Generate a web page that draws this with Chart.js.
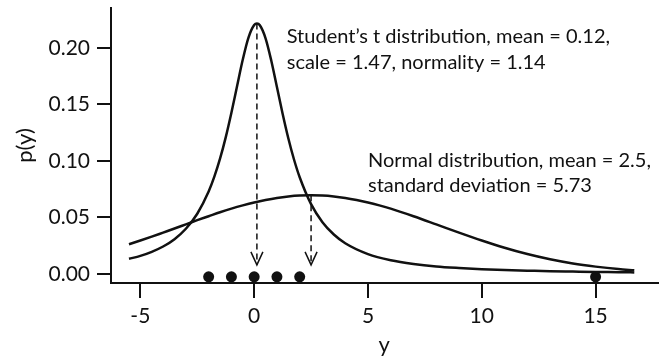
<!DOCTYPE html>
<html>
<head>
<meta charset="utf-8">
<script src="https://cdn.jsdelivr.net/npm/chart.js@4"></script>
<style>
  html, body { margin: 0; padding: 0; background: #fff; }
  #wrap { width: 663px; height: 359px; position: relative; }
</style>
</head>
<body>
<div id="wrap"><canvas id="c"></canvas></div>
<script>
/* ─── Data ──────────────────────────────────────────────────────────────── */
const observedY = [-2, -1, 0, 1, 2, 15];

// Student's t density, mean 0.12, scale 1.47, normality 1.14
const tX = [-5.5, -5, -4.5, -4, -3.5, -3, -2.5, -2, -1.75, -1.5, -1.25, -1, -0.75, -0.5, -0.25, 0,
  0.12, 0.25, 0.5, 0.75, 1, 1.25, 1.5, 1.75, 2, 2.5, 3, 3.5, 4, 5, 6, 7, 8, 9, 10, 11, 12, 13, 14, 15, 16, 16.7];
const tDensity = [0.0134, 0.0160, 0.0196, 0.0243, 0.0308, 0.0400, 0.0533, 0.0730, 0.0861, 0.1020, 0.1209, 0.1427, 0.1664, 0.1898, 0.2092, 0.2203,
  0.2217, 0.2201, 0.2086, 0.1890, 0.1655, 0.1418, 0.1201, 0.1013, 0.0856, 0.0618, 0.0458, 0.0349, 0.0272, 0.0176, 0.0122, 0.0089, 0.0067, 0.0053, 0.0042, 0.0034, 0.0029, 0.0024, 0.0021, 0.0018, 0.0016, 0.0014];

// Normal density, mean 2.5, sd 5.73
const normX = [-5.5, -5, -4.5, -4, -3.5, -3, -2.5, -2, -1.5, -1, -0.5, 0, 0.5, 1, 1.5, 2, 2.5, 3, 3.5, 4, 4.5, 5, 5.5, 6,
  7, 8, 9, 10, 11, 12, 13, 14, 15, 16, 16.7];
const normDensity = [0.0263, 0.0296, 0.0330, 0.0366, 0.0402, 0.0439, 0.0476, 0.0511, 0.0546, 0.0578, 0.0607, 0.0633, 0.0655, 0.0673, 0.0686, 0.0694, 0.0696, 0.0694, 0.0686, 0.0673, 0.0655, 0.0633, 0.0607, 0.0578,
  0.0511, 0.0439, 0.0366, 0.0296, 0.0232, 0.0176, 0.0130, 0.0093, 0.0065, 0.0043, 0.0032];

// dashed arrows: from each peak down toward the axis
const arrowX    = [0.12, 2.5];
const arrowTop  = [0.2217, 0.0696];
const arrowTip  = [0.008, 0.008];

const xTicks = [-5, 0, 5, 10, 15];
const yTicks = [0, 0.05, 0.10, 0.15, 0.20];

const notes = [
  { x: 1.43, y: 0.2044, text: 'Student\u2019s t distribution, mean = 0.12,' },
  { x: 1.43, y: 0.1814, text: 'scale = 1.47, normality = 1.14' },
  { x: 5.0,  y: 0.0947, text: 'Normal distribution, mean = 2.5,' },
  { x: 5.0,  y: 0.0726, text: 'standard deviation = 5.73' },
];

/* ─── Helpers ─────────────────────────────────────────────────────────────── */
const INK = '#111';
const FONT = 'Lato, sans-serif';

const toPoints = (xs, ys) => xs.map((x, i) => ({ x, y: ys[i] }));

const curve = (xs, ys) => ({
  type: 'line', data: toPoints(xs, ys),
  borderColor: INK, borderWidth: 2.5, pointRadius: 0,
  cubicInterpolationMode: 'monotone', fill: false,
});

const arrowSets = arrowX.map((x, i) => ({
  type: 'line', arrow: true,
  data: [{ x, y: arrowTop[i] }, { x, y: arrowTip[i] }],
  borderColor: INK, borderWidth: 1.5, borderDash: [6, 4], pointRadius: 0,
}));

const arrowHeads = {
  id: 'arrowHeads',
  afterDatasetsDraw(chart) {
    const ctx = chart.ctx;
    chart.data.datasets.forEach((ds, i) => {
      if (!ds.arrow) { return; }
      const pts = chart.getDatasetMeta(i).data;
      const tip = pts[pts.length - 1];
      ctx.save();
      ctx.strokeStyle = INK; ctx.lineWidth = 1.5;
      ctx.beginPath();
      ctx.moveTo(tip.x - 6, tip.y - 13);
      ctx.lineTo(tip.x, tip.y);
      ctx.lineTo(tip.x + 6, tip.y - 13);
      ctx.stroke();
      ctx.restore();
    });
  },
};

const noteText = {
  id: 'noteText',
  afterDatasetsDraw(chart) {
    const { ctx, scales: { x, y } } = chart;
    ctx.save();
    ctx.fillStyle = INK;
    ctx.font = '20px ' + FONT;
    ctx.textAlign = 'left';
    ctx.textBaseline = 'alphabetic';
    notes.forEach(n => ctx.fillText(n.text, x.getPixelForValue(n.x), y.getPixelForValue(n.y)));
    ctx.restore();
  },
};

/* ─── Chart ───────────────────────────────────────────────────────────────── */
Chart.defaults.font.family = FONT;
Chart.defaults.color = INK;

new Chart(document.getElementById('c'), {
  type: 'line',
  data: {
    datasets: [
      curve(tX, tDensity),
      curve(normX, normDensity),
      ...arrowSets,
      {
        type: 'scatter', data: observedY.map(v => ({ x: v, y: -0.0025 })),
        pointRadius: 5.5, pointBackgroundColor: INK, pointBorderColor: INK, pointBorderWidth: 0,
      },
    ],
  },
  options: {
    responsive: true, maintainAspectRatio: false, animation: false,
    layout: { padding: { top: 8, right: 5, left: 0, bottom: 0 } },
    plugins: { legend: { display: false }, tooltip: { enabled: false } },
    scales: {
      x: {
        type: 'linear', min: -6.29, max: 17.72,
        afterBuildTicks: s => { s.ticks = xTicks.map(v => ({ value: v })); },
        afterFit: s => { s.height = 76; s.paddingLeft = 0; s.paddingRight = 0; },
        grid: { drawOnChartArea: false, drawTicks: true, tickLength: 15, color: INK, lineWidth: 2 },
        border: { display: true, color: INK, width: 2 },
        ticks: { font: { size: 21 }, color: INK, padding: 6, maxRotation: 0, autoSkip: false, callback: v => String(v) },
        title: { display: true, text: 'y', font: { size: 22 }, color: INK, padding: { top: 0, bottom: 1 } },
      },
      y: {
        type: 'linear', min: -0.008, max: 0.2354,
        afterBuildTicks: s => { s.ticks = yTicks.map(v => ({ value: v })); },
        afterFit: s => { s.width = 111; s.paddingTop = 0; s.paddingBottom = 0; },
        grid: { drawOnChartArea: false, drawTicks: true, tickLength: 14, color: INK, lineWidth: 2 },
        border: { display: true, color: INK, width: 2 },
        ticks: { font: { size: 21 }, color: INK, padding: 7, callback: v => v.toFixed(2) },
        title: { display: true, text: 'p(y)', font: { size: 22 }, color: INK, padding: { top: 12, bottom: 0 } },
      },
    },
  },
  plugins: [arrowHeads, noteText],
});
</script>
</body>
</html>
